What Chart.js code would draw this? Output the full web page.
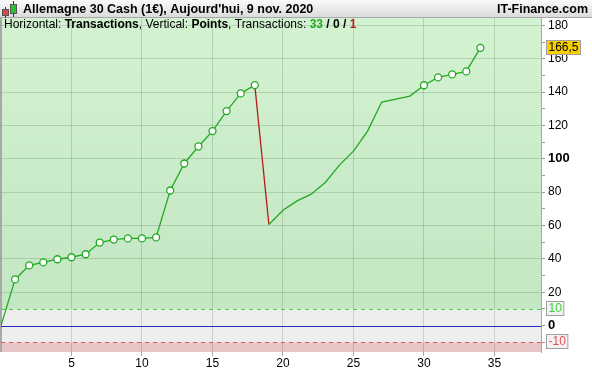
<!DOCTYPE html>
<html>
<head>
<meta charset="utf-8">
<script src="https://cdn.jsdelivr.net/npm/chart.js@4/dist/chart.umd.min.js"></script>
<style>
  html, body { margin: 0; padding: 0; background: #fff; }
  canvas { display: block; }
</style>
</head>
<body>
<canvas id="chart" width="592" height="370"></canvas>
<script>
// data
const transactions = [0, 1, 2, 3, 4, 5, 6, 7, 8, 9, 10, 11, 12, 13, 14, 15, 16, 17,
  18, 19, 20, 21, 22, 23, 24, 25, 26, 27, 28, 29, 30, 31, 32, 33, 34];
const points = [0, 27.7, 36.1, 37.9, 39.8, 41.0, 42.8, 49.8, 51.6, 52.3, 52.3, 52.9,
  81.0, 97.2, 107.4, 116.6, 128.6, 139.2, 144.2, 60.6, 69.2, 74.8, 78.8, 85.8, 96.2,
  104.6, 116.6, 134.0, 135.8, 137.6, 144.1, 148.8, 150.6, 152.4, 166.5];
const markedTransactions = [1, 2, 3, 4, 5, 6, 7, 8, 9, 10, 11, 12, 13, 14, 15, 16, 17, 18,
  30, 31, 32, 33, 34];
const yTickValues = [-10, 0, 10, 20, 30, 40, 50, 60, 70, 80, 90, 100, 110, 120, 130,
  140, 150, 160, 170, 180];
const xTickValues = [5, 10, 15, 20, 25, 30, 35];
const upperLimit = 10;
const lowerLimit = -10;
const titleText = "Allemagne 30 Cash (1€), Aujourd'hui, 9 nov. 2020";
const siteText = "IT-Finance.com";
const counts = { won: 33, even: 0, lost: 1 };

const FONT = 'Arial, "Liberation Sans", Helvetica, sans-serif';
const GREEN = "#22aa22";
const RED = "#b81c1c";

const decor = {
  id: "decor",
  beforeDraw(chart) {
    const { ctx, chartArea: a, scales } = chart;
    const y = scales.y;
    const yUp = y.getPixelForValue(upperLimit);
    const yLow = y.getPixelForValue(lowerLimit);
    ctx.save();
    // bands
    const g = ctx.createLinearGradient(0, a.top, 0, yUp);
    g.addColorStop(0, "#d3f2d1");
    g.addColorStop(1, "#c3e6c3");
    ctx.fillStyle = g;
    ctx.fillRect(a.left, a.top, a.width, yUp - a.top);
    ctx.fillStyle = "#eeeeee";
    ctx.fillRect(a.left, yUp, a.width, yLow - yUp);
    ctx.fillStyle = "#e8c4c4";
    ctx.fillRect(a.left, yLow, a.width, a.bottom - yLow);

    // header bar
    const hg = ctx.createLinearGradient(0, 0, 0, 18);
    hg.addColorStop(0, "#fafafa");
    hg.addColorStop(1, "#dadada");
    ctx.fillStyle = hg;
    ctx.fillRect(0, 0, chart.width, 18);
    ctx.fillStyle = "#a8a8a8";
    ctx.fillRect(0, 17, chart.width, 1);

    // candle icon
    ctx.fillStyle = "#333";
    ctx.fillRect(5, 7, 1, 11);
    ctx.fillRect(13, 1, 1, 16);
    ctx.fillStyle = "#e04848";
    ctx.fillRect(2, 9, 7, 7);
    ctx.fillStyle = "#30c030";
    ctx.fillRect(10, 4, 7, 10);
    ctx.strokeStyle = "#555";
    ctx.lineWidth = 1;
    ctx.strokeRect(2.5, 9.5, 6, 6);
    ctx.strokeRect(10.5, 4.5, 6, 9);

    ctx.fillStyle = "#000";
    ctx.font = "bold 12.5px " + FONT;
    ctx.textBaseline = "middle";
    ctx.textAlign = "left";
    ctx.fillText(titleText, 23, 9.5);
    ctx.textAlign = "right";
    ctx.fillText(siteText, 588, 9.5);

    // left frame
    ctx.fillStyle = "#a8a8a8";
    ctx.fillRect(0, a.top, 2, a.bottom - a.top);
    ctx.restore();
  },
  beforeDatasetsDraw(chart) {
    const { ctx, chartArea: a, scales } = chart;
    const y = scales.y;
    ctx.save();
    ctx.lineWidth = 1;
    ctx.setLineDash([4, 4]);
    ctx.strokeStyle = "#3fd23f";
    let py = Math.round(y.getPixelForValue(upperLimit)) + 0.5;
    ctx.beginPath(); ctx.moveTo(a.left, py); ctx.lineTo(a.right, py); ctx.stroke();
    ctx.strokeStyle = "#e05858";
    py = Math.round(y.getPixelForValue(lowerLimit)) + 0.5;
    ctx.beginPath(); ctx.moveTo(a.left, py); ctx.lineTo(a.right, py); ctx.stroke();
    ctx.setLineDash([]);
    ctx.strokeStyle = "#2a2ac0";
    py = Math.round(y.getPixelForValue(0)) + 0.5;
    ctx.beginPath(); ctx.moveTo(a.left, py); ctx.lineTo(a.right, py); ctx.stroke();

    // subtitle line
    const parts = [
      ["Horizontal: ", "normal", "#000"],
      ["Transactions", "bold", "#000"],
      [", Vertical: ", "normal", "#000"],
      ["Points", "bold", "#000"],
      [", Transactions: ", "normal", "#000"],
      [String(counts.won), "bold", "#22aa22"],
      [" / ", "bold", "#000"],
      [String(counts.even), "bold", "#000"],
      [" / ", "bold", "#000"],
      [String(counts.lost), "bold", "#c01818"]
    ];
    let x = 4;
    ctx.textBaseline = "middle";
    ctx.textAlign = "left";
    parts.forEach(([t, w, c]) => {
      ctx.font = w + " 12px " + FONT;
      ctx.fillStyle = c;
      ctx.fillText(t, x, 25);
      x += ctx.measureText(t).width;
    });
    ctx.restore();
  },
  afterDraw(chart) {
    const { ctx, chartArea: a, scales } = chart;
    const y = scales.y;
    ctx.save();
    ctx.font = "12px " + FONT;
    ctx.textBaseline = "middle";
    ctx.textAlign = "left";
    const box = (txt, val, fill, color) => {
      const py = Math.round(y.getPixelForValue(val));
      const w = ctx.measureText(txt).width + 4;
      ctx.fillStyle = fill;
      ctx.fillRect(a.right + 5.5, py - 7.5, w, 14);
      ctx.strokeStyle = "#a0a0a0";
      ctx.lineWidth = 1;
      ctx.strokeRect(a.right + 5.5, py - 7.5, w, 14);
      ctx.fillStyle = color;
      ctx.fillText(txt, a.right + 7.5, py);
    };
    box(String(upperLimit), upperLimit, "#f2f2f2", "#3fd23f");
    box(String(lowerLimit), lowerLimit, "#f2f2f2", "#e05050");
    const last = points[points.length - 1];
    box(last.toFixed(1).replace(".", ","), last, "#f8d000", "#000");
    ctx.restore();
  }
};

const gridColor = "rgba(0,50,0,0.15)";

new Chart(document.getElementById("chart"), {
  type: "line",
  data: {
    datasets: [{
      data: transactions.map((t, i) => ({ x: t, y: points[i] })),
      borderColor: GREEN,
      borderWidth: 1.3,
      pointRadius: (c) => markedTransactions.includes(c.raw && c.raw.x) ? 3.5 : 0,
      pointBackgroundColor: "#fff",
      pointBorderColor: GREEN,
      pointBorderWidth: 1.3,
      tension: 0,
      segment: {
        borderColor: (c) => c.p1.parsed.y < c.p0.parsed.y ? RED : GREEN
      }
    }]
  },
  plugins: [decor],
  options: {
    responsive: false,
    devicePixelRatio: 1,
    animation: false,
    layout: { autoPadding: false, padding: { top: 18, left: 1, right: 0, bottom: 0 } },
    plugins: { legend: { display: false }, tooltip: { enabled: false } },
    scales: {
      x: {
        type: "linear",
        min: 0,
        max: 38.3,
        afterBuildTicks: (s) => { s.ticks = xTickValues.map((v) => ({ value: v })); },
        afterFit: (s) => { s.height = 18; },
        grid: { color: gridColor, tickLength: 4, tickColor: "#aaa" },
        border: { display: false },
        ticks: { color: "#000", font: { size: 12, family: FONT }, padding: 0, maxRotation: 0 }
      },
      y: {
        position: "right",
        min: -15.8,
        max: 184.4,
        afterBuildTicks: (s) => { s.ticks = yTickValues.map((v) => ({ value: v })); },
        afterFit: (s) => { s.width = 51; },
        grid: {
          color: (c) => {
            const v = c.tick ? c.tick.value : NaN;
            return (v > 0 && v % 20 === 0) ? gridColor : "rgba(0,0,0,0)";
          },
          tickLength: 4,
          tickColor: "#999"
        },
        border: { display: true, color: "#a8a8a8" },
        ticks: {
          color: "#000",
          padding: 3,
          autoSkip: false,
          font: (c) => ({
            size: (c.tick && (c.tick.value === 100 || c.tick.value === 0)) ? 13 : 12,
            weight: (c.tick && (c.tick.value === 100 || c.tick.value === 0)) ? "bold" : "normal",
            family: FONT
          }),
          callback: (v) => (v === 0 || (v > 0 && v % 20 === 0)) ? String(v) : ""
        }
      }
    }
  }
});
</script>
</body>
</html>
